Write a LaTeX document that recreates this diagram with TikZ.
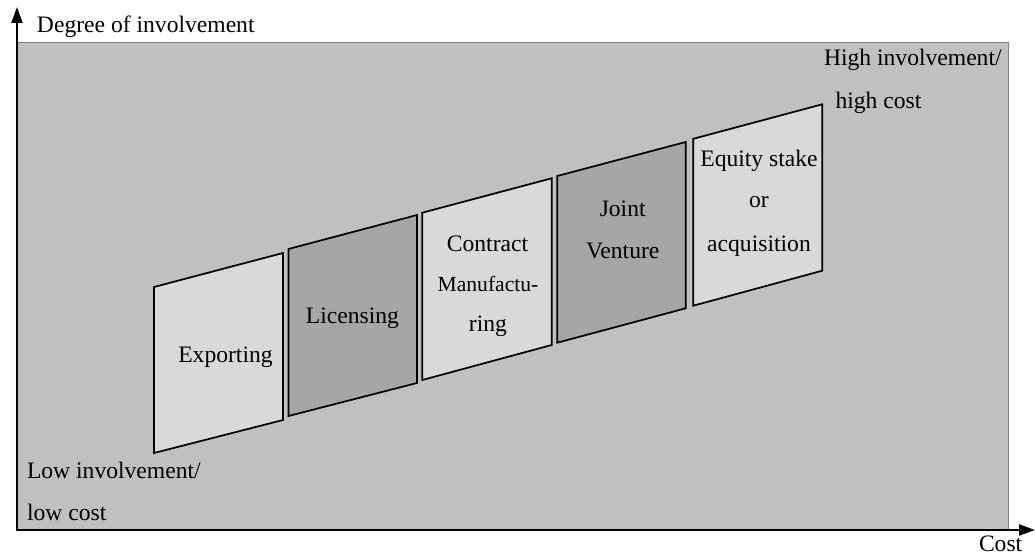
\documentclass[tikz,border=0pt]{standalone}
\usepackage{fontspec}
\setmainfont{Liberation Serif}
\usetikzlibrary{arrows.meta}
\definecolor{bggray}{HTML}{C0C0C0}
\definecolor{bordergray}{HTML}{808080}
\definecolor{lightbox}{HTML}{D9D9D9}
\definecolor{darkbox}{HTML}{A6A6A6}
\begin{document}
\begin{tikzpicture}[x=0.5pt,y=-0.5pt,
  lbl/.style={inner sep=0pt,outer sep=0pt,font=\fontsize{11.8}{14}\selectfont},
  lblw/.style={lbl,anchor=base west},
  lblc/.style={lbl,anchor=base},
  small/.style={lbl,anchor=base,font=\fontsize{10.8}{13}\selectfont},
  lightpar/.style={fill=lightbox,draw=black,line width=0.85pt,line join=miter},
  darkpar/.style={fill=darkbox,draw=black,line width=0.85pt,line join=miter},
  axis/.style={line width=1pt,-{Triangle[length=8pt,width=5.5pt]}}]
\useasboundingbox (0,0) rectangle (1035,556);
% background panel
\fill[bggray,draw=bordergray,line width=0.75pt] (17,42.5) rectangle (1008.5,530);
% parallelogram corners
\coordinate (e1) at (154,287);   \coordinate (e2) at (283,253);
\coordinate (e3) at (283,420);   \coordinate (e4) at (154,453);
\coordinate (l1) at (288.5,249); \coordinate (l2) at (417,215);
\coordinate (l3) at (417,383);   \coordinate (l4) at (288.5,416);
\coordinate (c1) at (422.3,212.7); \coordinate (c2) at (551.7,178.3);
\coordinate (c3) at (551.7,345);   \coordinate (c4) at (422.3,380);
\coordinate (j1) at (557.3,176);   \coordinate (j2) at (685.7,142);
\coordinate (j3) at (685.7,308.3); \coordinate (j4) at (557.3,342.7);
\coordinate (q1) at (693.3,138.8); \coordinate (q2) at (822.3,104.3);
\coordinate (q3) at (822.3,270.7); \coordinate (q4) at (693.3,305.7);
\draw[lightpar] (e1) -- (e2) -- (e3) -- (e4) -- cycle;
\draw[darkpar]  (l1) -- (l2) -- (l3) -- (l4) -- cycle;
\draw[lightpar] (c1) -- (c2) -- (c3) -- (c4) -- cycle;
\draw[darkpar]  (j1) -- (j2) -- (j3) -- (j4) -- cycle;
\draw[lightpar] (q1) -- (q2) -- (q3) -- (q4) -- cycle;
% box texts
\node[lblc] (exp) at (225.5,363) {Exporting};
\node[lblc] (lic) at (352.5,323) {Licensing};
\node[lblc] (con1) at (487.5,251.7) {Contract};
\node[small] (con2) at (488,291.7) {Manufactu-};
\node[lblc] (con3) at (488,331.7) {ring};
\node[lblc] (jv1) at (622.7,216.7) {Joint};
\node[lblc] (jv2) at (622.7,258) {Venture};
\node[lblc] (eq1) at (759,166.7) {Equity stake};
\node[lblc] (eq2) at (759,208) {or};
\node[lblc] (eq3) at (759,251.7) {acquisition};
% corner labels
\node[lblw] (hi1) at (824,66) {High involvement/};
\node[lblw] (hi2) at (835.5,109) {high cost};
\node[lblw] (lo1) at (27,478) {Low involvement/};
\node[lblw] (lo2) at (27,520) {low cost};
% axes
\coordinate (o) at (17,530);
\coordinate (ytip) at (17,7);
\coordinate (xtip) at (1035,530);
\draw[axis] (o) -- (ytip);
\draw[axis] ([xshift=-0.5pt]o) -- (xtip);
\node[lblw] (ylab) at (37,33) {Degree of involvement};
\node[lblw] (xlab) at (979,551.5) {Cost};
\end{tikzpicture}
\end{document}
